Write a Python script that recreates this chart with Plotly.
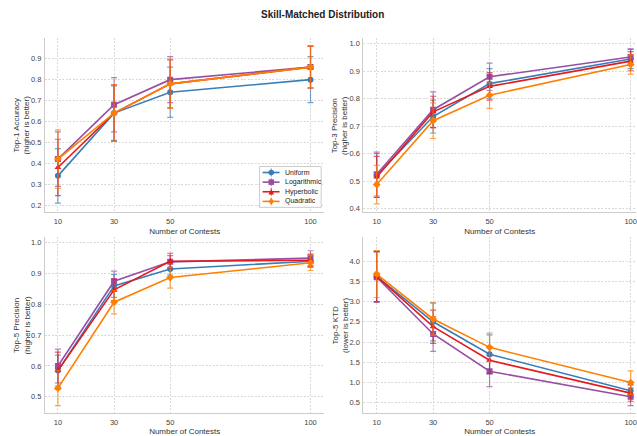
import plotly.graph_objects as go

contests = [10, 30, 50, 100]
methods = ["Uniform", "Logarithmic", "Hyperbolic", "Quadratic"]
colors = ["#377eb8", "#984ea3", "#e41a1c", "#ff7f00"]
symbols = ["circle", "square", "triangle-up", "diamond"]

# Top-1 Accuracy
top1_mean = {
    "Uniform": [0.34, 0.64, 0.74, 0.80],
    "Logarithmic": [0.42, 0.68, 0.80, 0.86],
    "Hyperbolic": [0.38, 0.64, 0.78, 0.86],
    "Quadratic": [0.42, 0.64, 0.78, 0.86],
}
top1_err = {
    "Uniform": [0.13, 0.13, 0.12, 0.11],
    "Logarithmic": [0.13, 0.13, 0.11, 0.10],
    "Hyperbolic": [0.135, 0.135, 0.115, 0.10],
    "Quadratic": [0.14, 0.135, 0.117, 0.10],
}
# Top-3 Precision
top3_mean = {
    "Uniform": [0.52, 0.735, 0.855, 0.945],
    "Logarithmic": [0.525, 0.76, 0.88, 0.952],
    "Hyperbolic": [0.515, 0.752, 0.845, 0.937],
    "Quadratic": [0.487, 0.72, 0.813, 0.925],
}
top3_err = {
    "Uniform": [0.08, 0.06, 0.055, 0.035],
    "Logarithmic": [0.08, 0.065, 0.05, 0.03],
    "Hyperbolic": [0.075, 0.057, 0.05, 0.035],
    "Quadratic": [0.07, 0.065, 0.048, 0.035],
}
# Top-5 Precision
top5_mean = {
    "Uniform": [0.585, 0.86, 0.915, 0.94],
    "Logarithmic": [0.60, 0.875, 0.938, 0.95],
    "Hyperbolic": [0.585, 0.847, 0.94, 0.943],
    "Quadratic": [0.528, 0.807, 0.887, 0.935],
}
top5_err = {
    "Uniform": [0.05, 0.037, 0.02, 0.02],
    "Logarithmic": [0.055, 0.033, 0.02, 0.024],
    "Hyperbolic": [0.06, 0.035, 0.026, 0.02],
    "Quadratic": [0.057, 0.038, 0.034, 0.025],
}
# Top-5 KTD
ktd_mean = {
    "Uniform": [3.62, 2.50, 1.70, 0.80],
    "Logarithmic": [3.60, 2.20, 1.28, 0.65],
    "Hyperbolic": [3.62, 2.38, 1.55, 0.74],
    "Quadratic": [3.68, 2.57, 1.87, 1.00],
}
ktd_err = {
    "Uniform": [0.62, 0.47, 0.48, 0.15],
    "Logarithmic": [0.62, 0.43, 0.38, 0.22],
    "Hyperbolic": [0.62, 0.41, 0.33, 0.20],
    "Quadratic": [0.58, 0.40, 0.35, 0.29],
}

ylabels = ["Top-1 Accuracy<br>(higher is better)", "Top-3 Precision<br>(higher is better)",
           "Top-5 Precision<br>(higher is better)", "Top-5 KTD<br>(lower is better)"]
yticks = [[0.2, 0.3, 0.4, 0.5, 0.6, 0.7, 0.8, 0.9],
          [0.4, 0.5, 0.6, 0.7, 0.8, 0.9, 1.0],
          [0.5, 0.6, 0.7, 0.8, 0.9, 1.0],
          [0.5, 1.0, 1.5, 2.0, 2.5, 3.0, 3.5, 4.0]]
xlabel = "Number of Contests"
title = "Skill-Matched Distribution"

panels = [(top1_mean, top1_err), (top3_mean, top3_err), (top5_mean, top5_err), (ktd_mean, ktd_err)]
yranges = [[0.167, 1.0], [0.387, 1.022], [0.447, 1.019], [0.247, 4.596]]

W, H = 637, 436
# pixel boxes (left, right, top, bottom)
boxes = [(45, 325, 38, 213), (364, 637, 38, 213), (45, 325, 238, 415), (364, 637, 238, 415)]
xranges = [[5.37, 104.98], [5.3, 101.9], [5.37, 104.98], [5.3, 101.9]]


def hex2rgba(h, a):
    h = h.lstrip("#")
    return f"rgba({int(h[0:2],16)},{int(h[2:4],16)},{int(h[4:6],16)},{a})"


def px(x):
    return x / W


def py(y):
    return (H - y) / H


fig = go.Figure()
font = "Liberation Sans, Arial, sans-serif"
layout = dict(
    width=W, height=H, margin=dict(l=0, r=0, t=0, b=0),
    paper_bgcolor="white", plot_bgcolor="white",
    font=dict(family=font, size=8, color="#333333"),
    showlegend=False,
)
annotations = []
shapes = []
for i, (mean, err) in enumerate(panels):
    xa = "x" if i == 0 else f"x{i+1}"
    ya = "y" if i == 0 else f"y{i+1}"
    for m, c, s in zip(methods, colors, symbols):
        fig.add_trace(go.Scatter(
            x=contests, y=mean[m], mode="lines+markers", name=m,
            xaxis=xa, yaxis=ya, legendgroup=m,
            line=dict(color=c, width=1.6),
            marker=dict(symbol=s, size=6, color=c),
            error_y=dict(type="data", array=err[m], visible=True,
                         color=hex2rgba(c, 0.7), thickness=1.2, width=3),
        ))
    l, r, t, b = boxes[i]
    xkey = "xaxis" if i == 0 else f"xaxis{i+1}"
    ykey = "yaxis" if i == 0 else f"yaxis{i+1}"
    grid = dict(showgrid=True, gridcolor="#d9d9d9", griddash="2px,1.5px", gridwidth=1)
    layout[xkey] = dict(
        domain=[px(l), px(r)], anchor=ya, range=xranges[i],
        tickvals=contests, ticktext=[str(v) for v in contests],
        showline=True, linecolor="#cccccc", linewidth=1.2,
        ticks="outside", ticklen=2, tickcolor="rgba(0,0,0,0)",
        tickfont=dict(size=7.5, color="#444444"), zeroline=False,
        ticklabeloverflow="allow",
        title=dict(text=xlabel, font=dict(size=8, color="#333333"), standoff=3),
        **grid,
    )
    layout[ykey] = dict(
        domain=[py(b), py(t)], anchor=xa, range=yranges[i],
        tickvals=yticks[i], tickformat=".1f",
        showline=True, linecolor="#cccccc", linewidth=1.2,
        ticks="outside", ticklen=1, tickcolor="rgba(0,0,0,0)",
        tickfont=dict(size=7.5, color="#444444"), zeroline=False,
        **grid,
    )
    annotations.append(dict(
        text=ylabels[i], textangle=-90, xref="paper", yref="paper",
        x=px(l - 23.5), y=py((t + b) / 2), xanchor="center", yanchor="middle",
        showarrow=False, font=dict(size=8, color="#333333"),
    ))

annotations.append(dict(
    text=f"<b>{title}</b>", xref="paper", yref="paper",
    x=px(323.5), y=py(15), xanchor="center", yanchor="middle",
    showarrow=False, font=dict(size=10, color="#222222"),
))

# Compact legend (plotly's native legend has a 19px minimum row height)
lg_left, lg_right, lg_top, lg_bottom = 260, 321.7, 167.3, 208.3
shapes.append(dict(type="rect", xref="paper", yref="paper",
                   x0=px(lg_left), x1=px(lg_right), y0=py(lg_bottom), y1=py(lg_top),
                   line=dict(color="#cccccc", width=1), fillcolor="rgba(255,255,255,0.9)",
                   layer="above"))
row0, row_gap = 173.3, 9.67
for k, (m, c, s) in enumerate(zip(methods, colors, symbols)):
    yy = row0 + k * row_gap
    shapes.append(dict(type="line", xref="paper", yref="paper",
                       x0=px(263), x1=px(280), y0=py(yy), y1=py(yy),
                       line=dict(color=c, width=1.6), layer="above"))
    shapes.append(dict(type="line", xref="paper", yref="paper",
                       x0=px(271.7), x1=px(271.7), y0=py(yy - 4), y1=py(yy + 4),
                       line=dict(color=hex2rgba(c, 0.7), width=1.2), layer="above"))
    cx, r_ = 271.7, 2.8
    if s == "circle":
        shapes.append(dict(type="circle", xref="paper", yref="paper",
                           x0=px(cx - r_), x1=px(cx + r_), y0=py(yy + r_), y1=py(yy - r_),
                           fillcolor=c, line=dict(width=0), layer="above"))
    elif s == "square":
        shapes.append(dict(type="rect", xref="paper", yref="paper",
                           x0=px(cx - r_), x1=px(cx + r_), y0=py(yy + r_), y1=py(yy - r_),
                           fillcolor=c, line=dict(width=0), layer="above"))
    elif s == "triangle-up":
        path = (f"M {px(cx - r_)} {py(yy + r_)} L {px(cx + r_)} {py(yy + r_)} "
                f"L {px(cx)} {py(yy - r_)} Z")
        shapes.append(dict(type="path", xref="paper", yref="paper", path=path,
                           fillcolor=c, line=dict(width=0), layer="above"))
    else:
        path = (f"M {px(cx)} {py(yy - r_ - 0.6)} L {px(cx + r_)} {py(yy)} "
                f"L {px(cx)} {py(yy + r_ + 0.6)} L {px(cx - r_)} {py(yy)} Z")
        shapes.append(dict(type="path", xref="paper", yref="paper", path=path,
                           fillcolor=c, line=dict(width=0), layer="above"))
    annotations.append(dict(
        text=m, xref="paper", yref="paper", x=px(283.5), y=py(yy),
        xanchor="left", yanchor="middle", showarrow=False,
        font=dict(size=7, color="#222222"),
    ))

layout["annotations"] = annotations
layout["shapes"] = shapes
fig.update_layout(**layout)
fig.write_html("out.html", config={"displayModeBar": False},
               post_script="document.body.style.margin='0';document.body.style.padding='0';")
